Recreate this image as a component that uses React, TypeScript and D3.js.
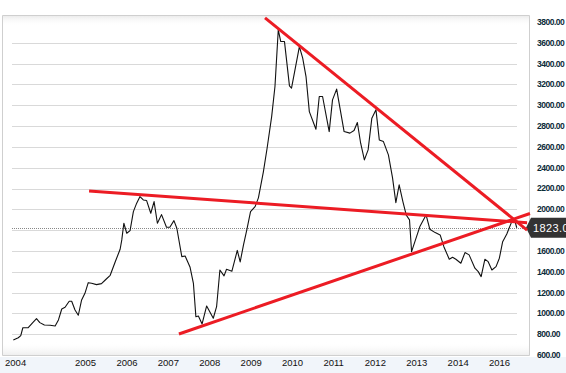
import React, { useEffect, useRef } from 'react';
import * as d3 from 'd3';

// price series, fractional year + close
const times = [
  2003.51, 2003.63, 2003.69, 2003.74, 2003.87, 2003.98, 2004.07, 2004.15, 2004.26, 2004.40,
  2004.52, 2004.60, 2004.68, 2004.76, 2004.86, 2004.92, 2005.00, 2005.08, 2005.16, 2005.24,
  2005.32, 2005.40, 2005.52, 2005.64, 2005.75, 2005.85, 2005.97, 2006.09, 2006.13, 2006.18,
  2006.25, 2006.33, 2006.41, 2006.49, 2006.57, 2006.65, 2006.73, 2006.83, 2006.91, 2006.99,
  2007.09, 2007.21, 2007.29, 2007.39, 2007.46, 2007.58, 2007.66, 2007.78, 2007.86, 2007.92,
  2007.98, 2008.07, 2008.18, 2008.34, 2008.42, 2008.50, 2008.60, 2008.66, 2008.79, 2008.92,
  2008.99, 2009.07, 2009.15, 2009.24, 2009.35, 2009.43, 2009.55, 2009.64, 2009.75, 2009.83,
  2009.91, 2009.97, 2010.06, 2010.18, 2010.23, 2010.42, 2010.50, 2010.58, 2010.66, 2010.82,
  2010.90, 2010.98, 2011.14, 2011.22, 2011.32, 2011.50, 2011.64, 2011.74, 2011.82, 2011.90,
  2011.99, 2012.08, 2012.17, 2012.27, 2012.35, 2012.45, 2012.57, 2012.67, 2012.75, 2012.83,
  2012.92, 2013.00, 2013.08, 2013.13, 2013.21, 2013.33, 2013.48, 2013.57, 2013.70, 2013.82,
  2013.91, 2014.04, 2014.12, 2014.20, 2014.32, 2014.42, 2014.52, 2014.66, 2014.74, 2014.81,
  2014.90, 2014.98, 2015.07, 2015.17, 2015.25, 2015.33, 2015.43, 2015.55, 2015.63, 2015.67,
];
const prices = [
  745, 766, 786, 862, 862, 911, 949, 911, 888, 886,
  879, 937, 1042, 1059, 1116, 1116, 1033, 982, 1129, 1193,
  1295, 1289, 1276, 1286, 1328, 1366, 1494, 1616, 1706, 1866,
  1770, 1795, 1978, 2059, 2122, 2090, 2084, 1962, 2074, 1866,
  1949, 1828, 1828, 1891, 1818, 1545, 1552, 1443, 1289, 968,
  975, 898, 1071, 953, 1064, 1417, 1360, 1424, 1405, 1605,
  1494, 1658, 1802, 1978, 2026, 2110, 2360, 2587, 2891, 3180,
  3725, 3612, 3612, 3186, 3164, 3564, 3453, 3276, 2939, 2770,
  3084, 3084, 2747, 3052, 3155, 2747, 2732, 2757, 2834, 2635,
  2475, 2571, 2876, 2956, 2667, 2651, 2523, 2302, 2064, 2235,
  2074, 1946, 1898, 1593, 1689, 1834, 1946, 1809, 1776, 1754,
  1641, 1520, 1539, 1520, 1482, 1584, 1562, 1434, 1401, 1353,
  1520, 1497, 1417, 1449, 1530, 1689, 1763, 1882, 1882, 1823,
];
const lastPrice = 1823;

// drawn trend lines: [[t0, v0], [t1, v1]]
const trendLines = [
  [[2009.59, 3840], [2015.92, 1800]],
  [[2005.34, 2176], [2015.92, 1871]],
  [[2007.51, 802], [2015.99, 1960]],
];

const yTicks = [600, 800, 1000, 1200, 1400, 1600, 2000, 2200, 2400, 2600, 2800, 3000, 3200, 3400, 3600, 3800];
const gridValues = [600, 800, 1000, 1200, 1400, 1600, 1800, 2000, 2200, 2400, 2600, 2800, 3000, 3200, 3400, 3600];
const xTickAt = [2003.31, 2005, 2006, 2007, 2008, 2009, 2010, 2011, 2012, 2013, 2014, 2015];
const xTickLabels = ['2004', '2005', '2006', '2007', '2008', '2009', '2010', '2011', '2012', '2013', '2014', '2016'];

export default function App() {
  const svgRef = useRef<SVGSVGElement>(null);

  useEffect(() => {
    const W = 566, H = 373;
    const svg = d3.select(svgRef.current).attr('width', W).attr('height', H).html('');

    const x = d3.scaleLinear().domain([2005, 2015]).range([75, 489]);
    const y = d3.scaleLinear().domain([600, 3800]).range([355, 22]);

    const defs = svg.append('defs');
    const gTop = defs.append('linearGradient').attr('id', 'fadeTop').attr('x1', 0).attr('x2', 0).attr('y1', 0).attr('y2', 1);
    gTop.append('stop').attr('offset', 0).attr('stop-color', '#ececec');
    gTop.append('stop').attr('offset', 1).attr('stop-color', '#ffffff').attr('stop-opacity', 0);
    const gBot = defs.append('linearGradient').attr('id', 'fadeBot').attr('x1', 0).attr('x2', 0).attr('y1', 0).attr('y2', 1);
    gBot.append('stop').attr('offset', 0).attr('stop-color', '#ffffff').attr('stop-opacity', 0);
    gBot.append('stop').attr('offset', 1).attr('stop-color', '#eeeeee');

    svg.append('rect').attr('width', W).attr('height', H).attr('fill', '#fff');
    // label strip under the plot
    svg.append('rect').attr('x', 0).attr('y', 357).attr('width', W).attr('height', 16).attr('fill', '#f1f5fa');

    svg.append('rect').attr('x', 3).attr('y', 16).attr('width', 526).attr('height', 10).attr('fill', 'url(#fadeTop)');
    svg.append('rect').attr('x', 3).attr('y', 342).attr('width', 526).attr('height', 13).attr('fill', 'url(#fadeBot)');

    // grid
    svg.append('g')
      .selectAll('line')
      .data(gridValues)
      .enter()
      .append('line')
      .attr('x1', 12).attr('x2', 517)
      .attr('y1', d => Math.round(y(d)) + 0.5)
      .attr('y2', d => Math.round(y(d)) + 0.5)
      .attr('stroke', '#d9d9d9');

    // frame
    svg.append('path')
      .attr('d', 'M2.5,355.5 L2.5,15.5 L529.5,15.5 L529.5,355.5 L2.5,355.5')
      .attr('fill', 'none')
      .attr('stroke', '#cfcfcf');

    // last price dotted line
    svg.append('line')
      .attr('x1', 12).attr('x2', 526)
      .attr('y1', Math.round(y(lastPrice)) + 0.5).attr('y2', Math.round(y(lastPrice)) + 0.5)
      .attr('stroke', '#888')
      .attr('stroke-dasharray', '1,1');

    // right axis labels
    svg.append('g')
      .selectAll('text')
      .data(yTicks)
      .enter()
      .append('text')
      .attr('x', 537)
      .attr('y', d => y(d))
      .attr('dy', '0.35em')
      .attr('fill', '#0c2a38')
      .style('font-family', '"Liberation Sans", Arial, sans-serif')
      .style('font-size', '8.5px')
      .style('font-weight', 'bold')
      .style('letter-spacing', '-0.5px')
      .text(d => d3.format('.2f')(d));

    // bottom axis labels
    svg.append('g')
      .selectAll('text')
      .data(xTickAt)
      .enter()
      .append('text')
      .attr('x', d => x(d))
      .attr('y', 366)
      .attr('fill', '#111')
      .style('font-family', '"Liberation Sans", Arial, sans-serif')
      .style('font-size', '9.5px')
      .text((d, i) => xTickLabels[i]);

    // price line
    const line = d3.line<number>()
      .x((d, i) => x(times[i]))
      .y(d => y(d));
    svg.append('path')
      .datum(prices)
      .attr('d', line)
      .attr('fill', 'none')
      .attr('stroke', '#111')
      .attr('stroke-width', 1.1)
      .attr('stroke-linejoin', 'round');

    // last price tag
    const ly = y(lastPrice);
    svg.append('path')
      .attr('d', `M526,${ly} L531,${ly - 10} L${W},${ly - 10} L${W},${ly + 10} L531,${ly + 10} Z`)
      .attr('fill', '#333');
    svg.append('text')
      .attr('x', 533)
      .attr('y', ly + 4)
      .attr('fill', '#fff')
      .style('font-family', '"Liberation Sans", Arial, sans-serif')
      .style('font-size', '11px')
      .style('letter-spacing', '0.4px')
      .text(d3.format('.2f')(lastPrice));

    // trend lines
    svg.append('g')
      .selectAll('line')
      .data(trendLines)
      .enter()
      .append('line')
      .attr('x1', d => x(d[0][0])).attr('y1', d => y(d[0][1]))
      .attr('x2', d => x(d[1][0])).attr('y2', d => y(d[1][1]))
      .attr('stroke', '#ec1c24')
      .attr('stroke-width', 3);
  }, []);

  return <svg ref={svgRef} style={{ position: 'absolute', left: 0, top: 0 }} />;
}
